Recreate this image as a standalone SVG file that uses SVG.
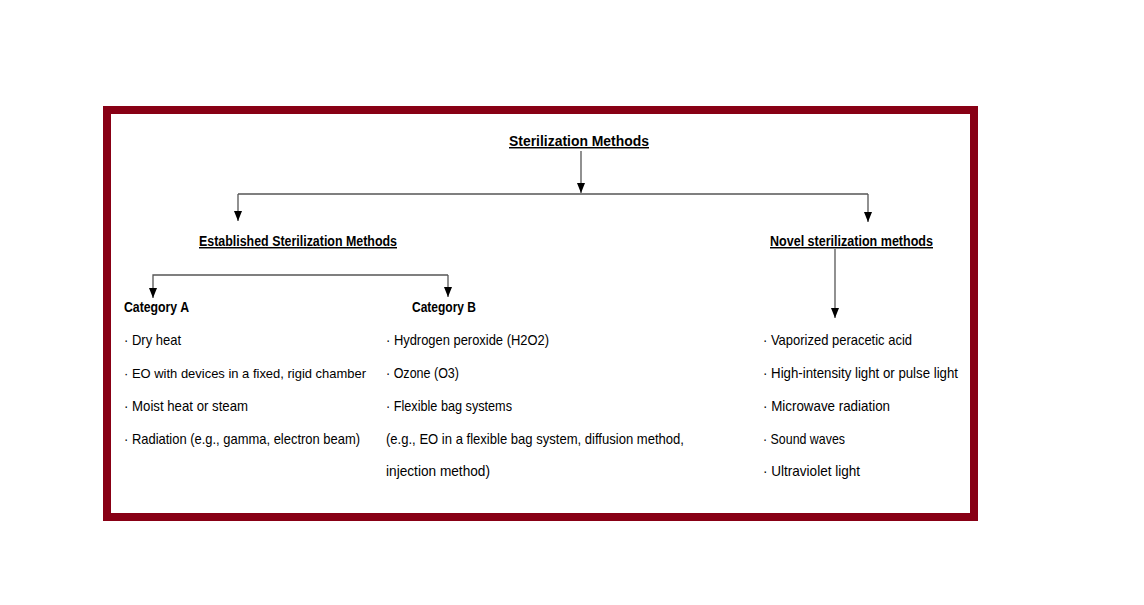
<svg xmlns="http://www.w3.org/2000/svg" width="1144" height="605" viewBox="0 0 1144 605">
<style>
text{font-family:"Liberation Sans",Arial,sans-serif;fill:#000;}
.h{font-size:14.5px;font-weight:bold;text-decoration:underline;}
.c{font-size:14.5px;font-weight:bold;}
.i{font-size:14.5px;}
.s{font-size:13.5px;}
.ln{fill:none;stroke:#555;stroke-width:1.3;}
</style>
<defs>
<marker id="ah" markerWidth="10" markerHeight="8" refX="10" refY="4" orient="auto" markerUnits="userSpaceOnUse" viewBox="0 0 10 8">
<path d="M0,0 L10,4 L0,8 Z" fill="#000"/>
</marker>
</defs>
<rect x="0" y="0" width="1144" height="605" fill="#fff"/>
<rect id="frame" x="107" y="110" width="867" height="407" fill="#fff" stroke="#880015" stroke-width="8"/>
<g id="connectors">
<line class="ln" x1="581" y1="151" x2="581" y2="193" marker-end="url(#ah)"/>
<line class="ln" x1="238" y1="194" x2="868" y2="194"/>
<path class="ln" d="M238,194 V221" marker-end="url(#ah)"/>
<path class="ln" d="M868,194 V222" marker-end="url(#ah)"/>
<path class="ln" d="M448,275 H153 V298" marker-end="url(#ah)"/>
<path class="ln" d="M448,275 V297" marker-end="url(#ah)"/>
<path class="ln" d="M835,249 V318" marker-end="url(#ah)"/>
</g>
<g id="root"><text class="h" x="509" y="146" textLength="140" lengthAdjust="spacingAndGlyphs">Sterilization Methods</text></g>
<g id="established"><text class="h" x="199" y="246" textLength="198" lengthAdjust="spacingAndGlyphs">Established Sterilization Methods</text></g>
<g id="novel"><text class="h" x="770" y="246" textLength="163" lengthAdjust="spacingAndGlyphs">Novel sterilization methods</text></g>
<g id="catA">
<text class="c" x="124" y="312" textLength="65" lengthAdjust="spacingAndGlyphs">Category A</text>
<text class="i" x="124" y="345" textLength="57" lengthAdjust="spacingAndGlyphs">· Dry heat</text>
<text class="i s" x="124" y="378" textLength="242" lengthAdjust="spacingAndGlyphs">· EO with devices in a fixed, rigid chamber</text>
<text class="i" x="124" y="411" textLength="124" lengthAdjust="spacingAndGlyphs">· Moist heat or steam</text>
<text class="i" x="124" y="444" textLength="236" lengthAdjust="spacingAndGlyphs">· Radiation (e.g., gamma, electron beam)</text>
</g>
<g id="catB">
<text class="c" x="412" y="312" textLength="64" lengthAdjust="spacingAndGlyphs">Category B</text>
<text class="i" x="386" y="345" textLength="163" lengthAdjust="spacingAndGlyphs">· Hydrogen peroxide (H2O2)</text>
<text class="i" x="386" y="378" textLength="73" lengthAdjust="spacingAndGlyphs">· Ozone (O3)</text>
<text class="i" x="386" y="411" textLength="126" lengthAdjust="spacingAndGlyphs">· Flexible bag systems</text>
<text class="i" x="386" y="444" textLength="298" lengthAdjust="spacingAndGlyphs">(e.g., EO in a flexible bag system, diffusion method,</text>
<text class="i" x="386" y="476" textLength="104" lengthAdjust="spacingAndGlyphs">injection method)</text>
</g>
<g id="novelItems">
<text class="i" x="763" y="345" textLength="149" lengthAdjust="spacingAndGlyphs">· Vaporized peracetic acid</text>
<text class="i" x="763" y="378" textLength="195" lengthAdjust="spacingAndGlyphs">· High-intensity light or pulse light</text>
<text class="i" x="763" y="411" textLength="127" lengthAdjust="spacingAndGlyphs">· Microwave radiation</text>
<text class="i" x="763" y="444" textLength="82" lengthAdjust="spacingAndGlyphs">· Sound waves</text>
<text class="i" x="763" y="476" textLength="97" lengthAdjust="spacingAndGlyphs">· Ultraviolet light</text>
</g>
</svg>
